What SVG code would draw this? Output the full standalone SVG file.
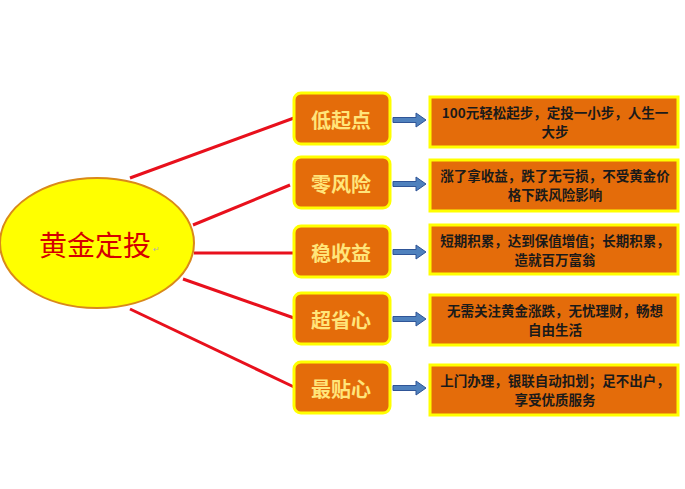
<svg xmlns="http://www.w3.org/2000/svg" width="685" height="489" viewBox="0 0 685 489">
<style>
.lbox{fill:#E46C0A;stroke:#FFFF00;stroke-width:3}
.rbox{fill:#E46C0A;stroke:#FFFF00;stroke-width:3}
.ltxt{font-family:"Noto Sans CJK SC",sans-serif;font-size:20px;font-weight:bold;fill:#FFE57A;text-anchor:middle;dominant-baseline:central}
.rtxt{font-family:"Noto Sans CJK SC",sans-serif;font-size:13.5px;font-weight:bold;fill:#1a1a1a;text-anchor:middle;dominant-baseline:central}
.ret{font-family:"DejaVu Sans",sans-serif;font-size:8px;fill:#b0b0b0}
.red{stroke:#E8101C;stroke-width:3;fill:none}
.arr{fill:#4F81BD;stroke:#2F5597;stroke-width:1}
</style>
<rect width="685" height="489" fill="#ffffff"/>
<g id="connectors">
<line class="red" x1="130" y1="178" x2="294" y2="118"/>
<line class="red" x1="193" y1="225" x2="290" y2="185"/>
<line class="red" x1="194" y1="253" x2="294" y2="253"/>
<line class="red" x1="183" y1="279" x2="294" y2="318"/>
<line class="red" x1="130" y1="309" x2="294" y2="387"/>
<path class="arr" d="M393,117.5 H416 V113 L426,120 L416,127 V122.5 H393 Z"/>
<path class="arr" d="M393,181.5 H416 V177 L426,184 L416,191 V186.5 H393 Z"/>
<path class="arr" d="M393,249.5 H416 V245 L426,252 L416,259 V254.5 H393 Z"/>
<path class="arr" d="M393,316.5 H416 V312 L426,319 L416,326 V321.5 H393 Z"/>
<path class="arr" d="M393,385.5 H416 V381 L426,388 L416,395 V390.5 H393 Z"/>
</g>
<g id="center">
<ellipse cx="97" cy="243" rx="97" ry="65" fill="#FFFF00" stroke="#D9891A" stroke-width="2"/>
<text x="95" y="244" style="font-family:'Noto Sans CJK SC',sans-serif;font-size:28px;fill:#D40000;text-anchor:middle;dominant-baseline:central">黄金定投</text>
<text class="ret" x="153" y="252">↵</text>
</g>
<g id="n1">
<rect class="lbox" x="294" y="93" width="96" height="51" rx="7"/>
<text class="ltxt" x="341" y="119">低起点</text>
</g>
<g id="n2">
<rect class="lbox" x="294" y="157" width="96" height="51" rx="7"/>
<text class="ltxt" x="341" y="183">零风险</text>
</g>
<g id="n3">
<rect class="lbox" x="294" y="226" width="96" height="51" rx="7"/>
<text class="ltxt" x="341" y="252">稳收益</text>
</g>
<g id="n4">
<rect class="lbox" x="294" y="293" width="96" height="51" rx="7"/>
<text class="ltxt" x="341" y="319">超省心</text>
</g>
<g id="n5">
<rect class="lbox" x="294" y="362" width="96" height="51" rx="7"/>
<text class="ltxt" x="341" y="388">最贴心</text>
</g>
<g id="d1">
<rect class="rbox" x="430" y="97" width="248" height="50"/>
<text class="rtxt" x="555" y="112">100元轻松起步，定投一小步，人生一</text>
<text class="rtxt" x="555" y="131">大步</text>
</g>
<g id="d2">
<rect class="rbox" x="430" y="160" width="248" height="51"/>
<text class="rtxt" x="555" y="175">涨了拿收益，跌了无亏损，不受黄金价</text>
<text class="rtxt" x="555" y="194">格下跌风险影响</text>
</g>
<g id="d3">
<rect class="rbox" x="430" y="225" width="248" height="49"/>
<text class="rtxt" x="555" y="240">短期积累，达到保值增值；长期积累，</text>
<text class="rtxt" x="555" y="259">造就百万富翁</text>
</g>
<g id="d4">
<rect class="rbox" x="430" y="295" width="248" height="50"/>
<text class="rtxt" x="555" y="310">无需关注黄金涨跌，无忧理财，畅想</text>
<text class="rtxt" x="555" y="329">自由生活</text>
</g>
<g id="d5">
<rect class="rbox" x="430" y="365" width="248" height="50"/>
<text class="rtxt" x="555" y="380">上门办理，银联自动扣划；足不出户，</text>
<text class="rtxt" x="555" y="399">享受优质服务</text>
</g>
</svg>
